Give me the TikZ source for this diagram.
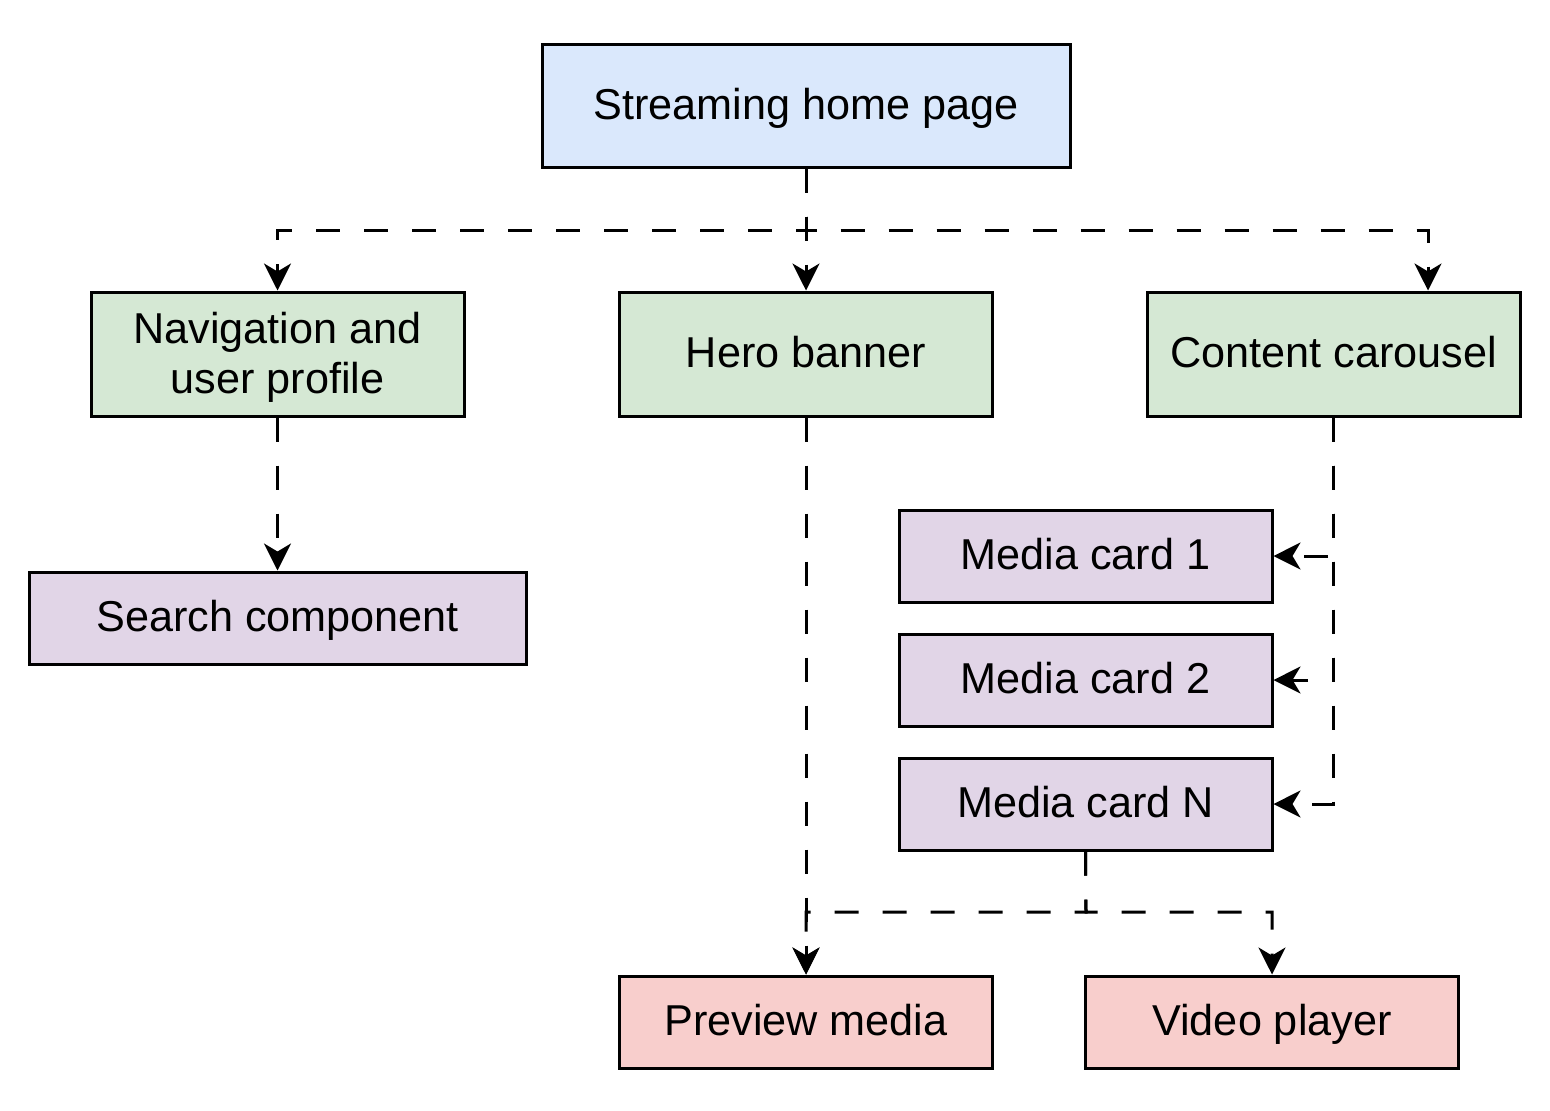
\documentclass[tikz,border=0pt]{standalone}
\usepackage{fontspec}
\setmainfont{Liberation Sans}
\usetikzlibrary{arrows.meta,calc}
\definecolor{cblue}{HTML}{DAE8FC}
\definecolor{cgreen}{HTML}{D5E8D4}
\definecolor{cpurple}{HTML}{E1D5E7}
\definecolor{cred}{HTML}{F8CECC}
\tikzset{
  box/.style={draw=black, line width=1.5pt, inner sep=0pt, align=center,
    font=\fontsize{21.6}{25}\selectfont},
  oneline/.style={text height=18pt, text depth=4.5pt},
  bigbox/.style={box, minimum width=186.5pt, minimum height=62pt},
  smallbox/.style={box, oneline, minimum width=186.5pt, minimum height=46pt},
  conn/.style={draw=black, line width=1.5pt, dash pattern=on 12pt off 12pt,
    -{Stealth[length=13.5pt,width=13.5pt,inset=4pt]}},
}
\begin{document}
\begin{tikzpicture}[x=0.5pt,y=-0.5pt]
\useasboundingbox (0,0) rectangle (1550,1110);
\fill[white] (0,0) rectangle (1550,1110);
\node[box, oneline, fill=cblue, minimum width=264pt, minimum height=61.5pt] (home) at (806,105.5) {Streaming home page};
\node[bigbox, fill=cgreen] (nav) at (277.5,354) {\rule{0pt}{18.5pt}Navigation and\\user profile};
\node[bigbox, oneline, fill=cgreen] (hero) at (806,354) {Hero banner};
\node[bigbox, oneline, fill=cgreen] (car) at (1333.5,354) {Content carousel};
\node[box, oneline, fill=cpurple, minimum width=248.5pt, minimum height=46pt] (search) at (277.5,618) {Search component};
\node[smallbox, fill=cpurple] (mc1) at (1085.5,556) {Media card 1};
\node[smallbox, fill=cpurple] (mc2) at (1085.5,680) {Media card 2};
\node[smallbox, fill=cpurple] (mcn) at (1085.5,804) {Media card N};
\node[smallbox, fill=cred] (prev) at (806,1022) {Preview media};
\node[smallbox, fill=cred] (video) at (1272,1022) {Video player};
\coordinate (t1) at (806,230);
\coordinate (t2) at (1428,230);
\coordinate (b1) at (1086,912);
\coordinate (b2) at (1272,912);
% top tree
\draw[conn] (home.south) -- (t1) -| (nav.north);
\draw[conn] (home.south) -- (hero.north);
\draw[conn] (home.south) -- (t1) -- (t2) -- (t2 |- car.north);
% nav -> search
\draw[conn] (nav.south) -- (search.north);
% hero -> preview
\draw[conn] (hero.south) -- (prev.north);
% carousel -> media cards
\draw[conn] (car.south) |- (mc1.east);
\draw[conn] (car.south) |- (mc2.east);
\draw[conn] (car.south) |- (mcn.east);
% media card N -> preview, video
\draw[conn] (mcn.south) -- (b1) -| (prev.north);
\draw[conn] (mcn.south) -- (b1) -- (b2) -- (video.north);
\end{tikzpicture}
\end{document}
